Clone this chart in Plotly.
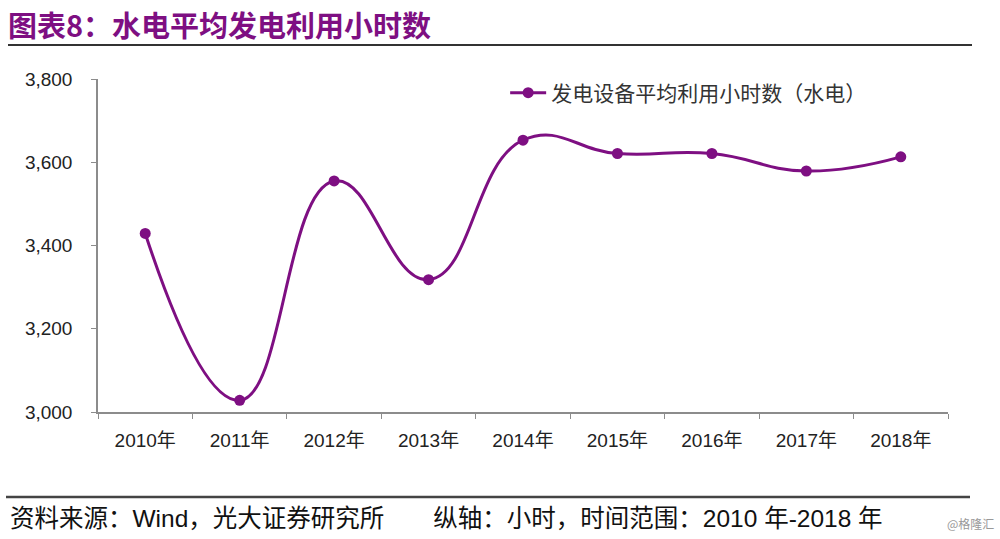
import plotly.graph_objects as go

years = ["2010年", "2011年", "2012年", "2013年", "2014年", "2015年", "2016年", "2017年", "2018年"]
hours = [3429, 3028, 3555, 3318, 3653, 3621, 3621, 3579, 3613]
series_name = "发电设备平均利用小时数（水电）"
y_ticks = [3000, 3200, 3400, 3600, 3800]

purple = "#7E0F82"
axis_col = "#8C8C8C"
cjk = "Liberation Sans, Noto Sans CJK SC, sans-serif"

fig = go.Figure()
fig.add_trace(go.Scatter(
    x=years, y=hours, name=series_name, mode="lines+markers",
    line=dict(color=purple, width=3, shape="spline", smoothing=1.3),
    marker=dict(color=purple, size=11, symbol="circle"),
))

fig.update_layout(
    width=1000, height=539,
    margin=dict(l=98, r=52, t=79, b=127, autoexpand=False),
    paper_bgcolor="white", plot_bgcolor="white",
    font=dict(family=cjk, size=16, color="#222222"),
    showlegend=True,
    legend=dict(x=0.479, y=1 - (93-79)/333, xanchor="left", yanchor="middle",
                bgcolor="rgba(0,0,0,0)", font=dict(size=21, color="#333333"),
                itemwidth=36),
    xaxis=dict(type="category", range=[-0.5, 8.5], showline=True, linecolor=axis_col,
               linewidth=1.5, ticks="outside", tickson="boundaries", ticklen=5,
               tickcolor=axis_col, showgrid=False, zeroline=False,
               tickfont=dict(size=19, color="#222222"), ticklabelstandoff=10),
    yaxis=dict(range=[3000, 3800], tickvals=y_ticks, tickformat=",d", showline=True,
               linecolor=axis_col, linewidth=1.5, ticks="outside", ticklen=5,
               tickcolor=axis_col, showgrid=False, zeroline=False,
               tickfont=dict(size=19, color="#222222"), ticklabelstandoff=15),
)

# Title and footer
fig.add_annotation(text="<b>图表8：水电平均发电利用小时数</b>", xref="paper", yref="paper",
                   x=-92/850, y=1 + (79-24)/333, xanchor="left", yanchor="middle",
                   showarrow=False, font=dict(size=29, color=purple, family="Noto Sans CJK SC"))
fig.add_shape(type="line", xref="paper", yref="paper", x0=-90/850, x1=(972-98)/850,
              y0=1 + (79-45)/333, y1=1 + (79-45)/333, line=dict(color="#333333", width=2))
fig.add_shape(type="line", xref="paper", yref="paper", x0=-92/850, x1=(970-98)/850,
              y0=-(497-412)/333, y1=-(497-412)/333, line=dict(color="#444444", width=2.5))
fig.add_annotation(text="资料来源：Wind，光大证券研究所　　纵轴：小时，时间范围：2010 年-2018 年",
                   xref="paper", yref="paper", x=-90/850, y=-(518-412)/333,
                   xanchor="left", yanchor="middle", showarrow=False,
                   font=dict(size=24.5, color="#111111", family=cjk))
fig.add_annotation(text="@格隆汇", xref="paper", yref="paper", x=(996-98)/850, y=-(523-412)/333,
                   xanchor="right", yanchor="middle", showarrow=False,
                   font=dict(size=12, color="#999999", family="Noto Sans CJK SC"))

fig.write_html("out.html", config={"displayModeBar": False},
               post_script="document.body.style.margin='0';window.scrollTo(0,0);")
